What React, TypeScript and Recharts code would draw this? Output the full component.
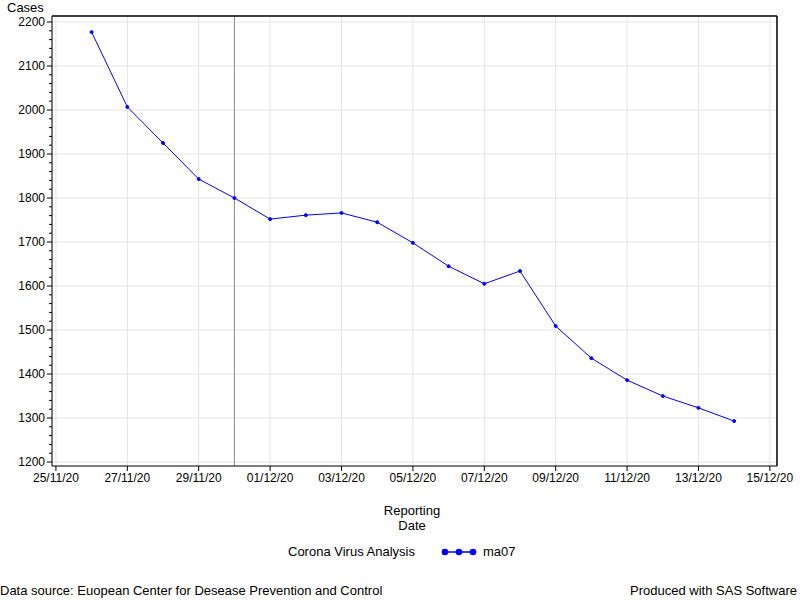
import React from "react";
import {
  LineChart,
  Line,
  XAxis,
  YAxis,
  CartesianGrid,
  ReferenceLine,
} from "recharts";

// day index counted from 25/11/20
const dayIndex = [1, 2, 3, 4, 5, 6, 7, 8, 9, 10, 11, 12, 13, 14, 15, 16, 17, 18, 19];
const dateLabels = [
  "26/11/20", "27/11/20", "28/11/20", "29/11/20", "30/11/20", "01/12/20",
  "02/12/20", "03/12/20", "04/12/20", "05/12/20", "06/12/20", "07/12/20",
  "08/12/20", "09/12/20", "10/12/20", "11/12/20", "12/12/20", "13/12/20",
  "14/12/20",
];
const ma07 = [
  2177, 2007, 1925, 1843, 1800, 1752, 1761, 1766, 1745, 1698, 1645, 1605,
  1634, 1509, 1436, 1386, 1350, 1323, 1293,
];

const xTicks = [0, 2, 4, 6, 8, 10, 12, 14, 16, 18, 20];
const xTickLabels = [
  "25/11/20", "27/11/20", "29/11/20", "01/12/20", "03/12/20", "05/12/20",
  "07/12/20", "09/12/20", "11/12/20", "13/12/20", "15/12/20",
];
const yMajor = [1200, 1300, 1400, 1500, 1600, 1700, 1800, 1900, 2000, 2100, 2200];
const yMinor = Array.from({ length: 51 }, (_, i) => 1200 + i * 20);
const markerDay = 5;
const xDomain = [-0.11, 20.2];
const yDomain = [1190.9, 2213.6];

const data = dayIndex.map((d, i) => ({ day: d, date: dateLabels[i], ma07: ma07[i] }));

const FONT = "'Liberation Sans', Arial, sans-serif";

function YTick(props: any) {
  const { x, y, payload } = props;
  const major = payload.value % 100 === 0;
  return (
    <g>
      <line x1={x} x2={x - (major ? 5 : 3)} y1={y} y2={y} stroke="#000" />
      {major && (
        <text x={x - 7} y={y} dy={4} textAnchor="end" fontSize={12} fill="#000" fontFamily={FONT}>
          {payload.value}
        </text>
      )}
    </g>
  );
}

export default function App() {
  return (
    <div style={{ position: "absolute", left: 0, top: 0, width: 800, height: 600, background: "#fff", fontFamily: FONT, fontSize: 13, color: "#000" }}>
      <div style={{ position: "absolute", left: 7, top: 0 }}>Cases</div>
      <LineChart
        width={800}
        height={600}
        data={data}
        margin={{ top: 16, right: 23, left: 0, bottom: 104 }}
      >
        <CartesianGrid horizontal={false} stroke="#e4e4e4" />
        <XAxis
          dataKey="day"
          type="number"
          domain={xDomain}
          ticks={xTicks}
          tickFormatter={(v) => xTickLabels[xTicks.indexOf(v)] ?? ""}
          tick={{ fontSize: 12, fill: "#000", fontFamily: FONT }}
          tickSize={5}
          stroke="#000"
          height={30}
          interval={0}
        />
        <YAxis
          type="number"
          domain={yDomain}
          ticks={yMinor}
          tick={<YTick />}
          tickLine={false}
          tickSize={0}
          tickMargin={0}
          interval={0}
          stroke="#000"
          width={52}
        />
        {yMajor.map((v) => (
          <ReferenceLine key={v} y={v} stroke="#e4e4e4" ifOverflow="hidden" />
        ))}
        <ReferenceLine x={markerDay} stroke="#888" />
        {/* top and right frame */}
        <ReferenceLine y={yDomain[1]} stroke="#000" strokeWidth={1.5} ifOverflow="visible" />
        <ReferenceLine x={xDomain[1]} stroke="#000" strokeWidth={1.5} ifOverflow="visible" />
        <Line
          dataKey="ma07"
          type="linear"
          stroke="#0000ff"
          strokeWidth={1}
          dot={{ r: 1.5, fill: "#0000ff", stroke: "#0000ff" }}
          isAnimationActive={false}
        />
      </LineChart>
      <div style={{ position: "absolute", left: 352, top: 503, width: 120, textAlign: "center", lineHeight: "15px" }}>
        Reporting<br />Date
      </div>
      <div style={{ position: "absolute", left: 288, top: 544, display: "flex", alignItems: "center" }}>
        <span>Corona Virus Analysis</span>
        <svg width={36} height={12} style={{ marginLeft: 26 }}>
          <line x1={4} x2={32} y1={6} y2={6} stroke="#0000ff" strokeWidth={1.5} />
          <circle cx={4} cy={6} r={3.3} fill="#0000ff" />
          <circle cx={18} cy={6} r={3.3} fill="#0000ff" />
          <circle cx={32} cy={6} r={3.3} fill="#0000ff" />
        </svg>
        <span style={{ marginLeft: 6 }}>ma07</span>
      </div>
      <div style={{ position: "absolute", left: 0, top: 583 }}>
        Data source: Euopean Center for Desease Prevention and Control
      </div>
      <div style={{ position: "absolute", right: 3, top: 583 }}>Produced with SAS Software</div>
    </div>
  );
}
